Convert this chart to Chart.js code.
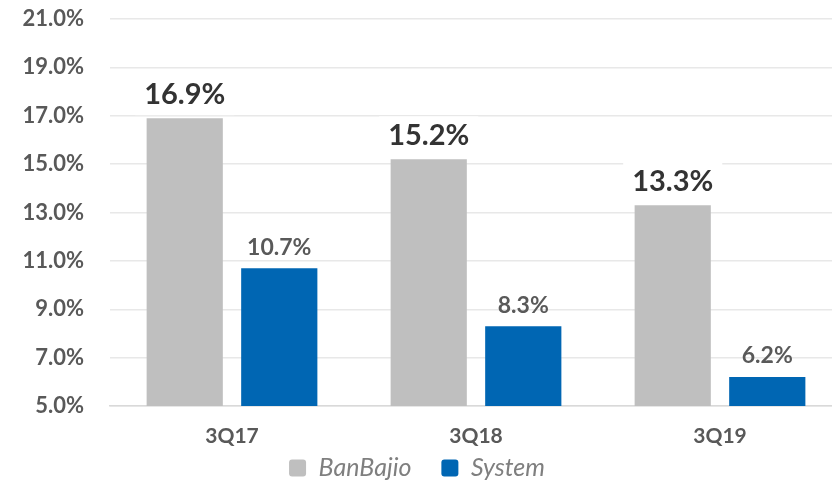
<!DOCTYPE html>
<html>
<head>
<meta charset="utf-8">
<script src="https://cdn.jsdelivr.net/npm/chart.js@4"></script>
<style>
  html, body { margin: 0; padding: 0; background: #fff; overflow: hidden; }
  #wrap { width: 842px; height: 487px; }
</style>
</head>
<body>
<div id="wrap"><canvas id="chart" width="842" height="487"></canvas></div>
<script>
// 数据
const quarters = ['3Q17', '3Q18', '3Q19'];
const banBajio = [16.9, 15.2, 13.3];
const systemAvg = [10.7, 8.3, 6.2];
const yTicks = [5, 7, 9, 11, 13, 15, 17, 19, 21];

const FONT = 'Lato, "Open Sans", sans-serif';

// 柱子上方的数值标签
const valueLabels = {
    id: 'valueLabels',
    afterDatasetsDraw(chart) {
        const ctx = chart.ctx;
        chart.data.datasets.forEach((ds, i) => {
            const meta = chart.getDatasetMeta(i);
            meta.data.forEach((bar, j) => {
                const text = ds.data[j].toFixed(1) + '%';
                ctx.save();
                ctx.textAlign = 'center';
                ctx.textBaseline = 'middle';
                if (i === 0) {
                    ctx.font = 'bold 29px ' + FONT;
                    const w = ctx.measureText(text).width;
                    ctx.fillStyle = '#ffffff';
                    ctx.fillRect(bar.x - w / 2 - 9, bar.y - 43, w + 18, 40);
                    ctx.fillStyle = '#333333';
                    ctx.fillText(text, bar.x, bar.y - 24);
                } else {
                    ctx.font = 'bold 23px ' + FONT;
                    ctx.fillStyle = '#595959';
                    ctx.fillText(text, bar.x, bar.y - 21);
                }
                ctx.restore();
            });
        });
    }
};

// 图例往上挪一点，靠近 x 轴标签
const legendShift = {
    id: 'legendShift',
    afterLayout(chart) {
        const lg = chart.legend;
        const h = lg.bottom - lg.top;
        lg.top = 425.5;
        lg.bottom = lg.top + h;
        lg.left -= 4;
        lg.right -= 4;
    }
};

new Chart(document.getElementById('chart'), {
    type: 'bar',
    data: {
        labels: quarters,
        datasets: [
            {
                label: 'BanBajio',
                data: banBajio,
                backgroundColor: '#BFBFBF',
                categoryPercentage: 0.775,
                barPercentage: 0.806
            },
            {
                label: 'System',
                data: systemAvg,
                backgroundColor: '#0066B3',
                categoryPercentage: 0.775,
                barPercentage: 0.806
            }
        ]
    },
    options: {
        responsive: false,
        animation: false,
        devicePixelRatio: 1,
        layout: { padding: { top: 19, left: 0, right: 0, bottom: -30 } },
        plugins: {
            legend: {
                position: 'bottom',
                labels: {
                    boxWidth: 17,
                    boxHeight: 17,
                    padding: 30,
                    color: '#7F7F7F',
                    useBorderRadius: true,
                    borderRadius: 3,
                    font: { family: FONT, size: 25, style: 'italic' },
                    generateLabels(chart) {
                        return chart.data.datasets.map((ds, i) => ({
                            text: ds.label,
                            fillStyle: ds.backgroundColor,
                            strokeStyle: ds.backgroundColor,
                            lineWidth: 0,
                            borderRadius: 3,
                            fontColor: '#7F7F7F',
                            datasetIndex: i
                        }));
                    }
                }
            },
            tooltip: { enabled: false }
        },
        scales: {
            x: {
                grid: { display: false },
                border: { color: '#D9D9D9', width: 1.5 },
                ticks: {
                    color: '#595959',
                    padding: 10,
                    font: { family: FONT, size: 21, weight: 'bold' }
                },
                afterFit(scale) { scale.height = 46; }
            },
            y: {
                min: 5,
                max: 21,
                afterBuildTicks(scale) {
                    scale.ticks = yTicks.map(v => ({ value: v }));
                },
                grid: { color: '#E8E8E8', lineWidth: 1.5, drawTicks: false },
                border: { display: false },
                ticks: {
                    color: '#595959',
                    padding: 26,
                    font: { family: FONT, size: 22, weight: 'bold' },
                    callback: v => v.toFixed(1) + '%'
                },
                afterFit(scale) {
                    scale.width = 110;
                    scale.paddingTop = 0;
                    scale.paddingBottom = 0;
                }
            }
        }
    },
    plugins: [valueLabels, legendShift]
});
</script>
</body>
</html>
